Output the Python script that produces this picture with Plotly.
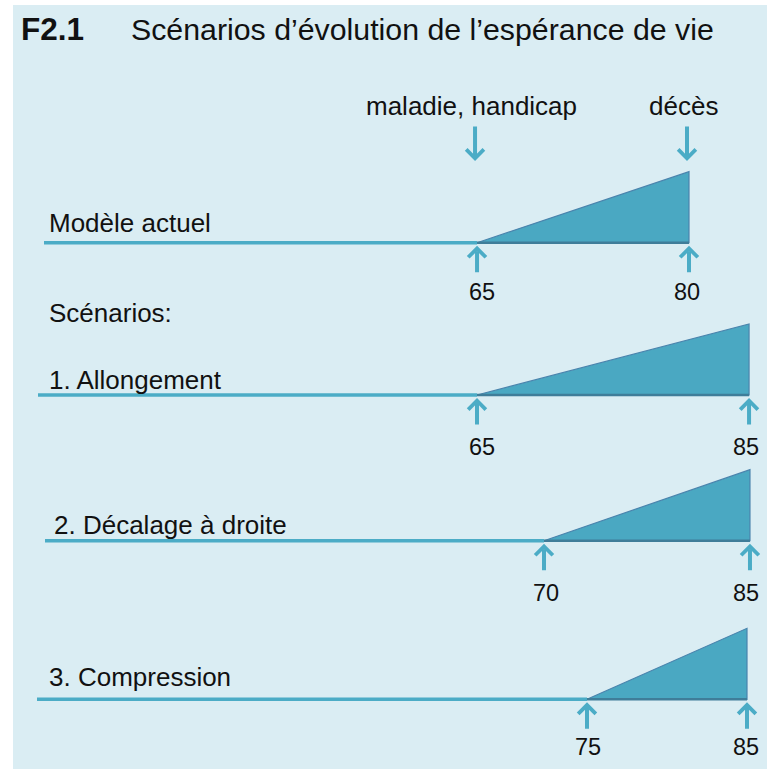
import plotly.graph_objects as go

# ---------------- data ----------------
title_code = "F2.1"
title_text = "Scénarios d’évolution de l’espérance de vie"
row_labels = ["Modèle actuel", "1. Allongement", "2. Décalage à droite", "3. Compression"]
onset_age = [65, 65, 70, 75]      # maladie, handicap
death_age = [80, 85, 85, 85]      # décès
event_labels = ["maladie, handicap", "décès"]
section_label = "Scénarios:"

# ---------------- layout constants ----------------
W, H = 767, 769
row_base_y = [242.7, 395.0, 540.7, 699.3]          # baseline of each schematic row
row_label_y = [223, 380, 525, 677]
row_label_x = [46.7, 46.7, 52, 46.7]
number_y = [292, 447, 593, 747]
number_xshift = [[5, -2], [5, -3], [2, -4], [1, -1]]
row_xrange = [[31.24, 85.52], [29.93, 86.32], [30.38, 86.24], [38.31, 86.25]]
row_line_start_px = [44, 38, 45, 37]
tri_height = 71

LINE = "#4bacc6"
FILL = "#4aa8c2"
EDGE = "#4a84ad"
BG = "#daedf3"
TXT = "#111111"
FONT = "Liberation Sans, Arial, sans-serif"

fig = go.Figure()
annotations = []

for i in range(len(row_labels)):
    xa = "x" if i == 0 else f"x{i+1}"
    r0, r1 = row_xrange[i]
    start = r0 + row_line_start_px[i] / W * (r1 - r0)
    yb = row_base_y[i]
    # baseline (life line)
    fig.add_trace(go.Scatter(x=[start, onset_age[i]], y=[yb, yb], mode="lines",
                             line=dict(color=LINE, width=3.5), xaxis=xa, yaxis="y",
                             hoverinfo="skip", showlegend=False))
    # triangle (years with illness / handicap)
    fig.add_trace(go.Scatter(x=[onset_age[i], death_age[i], death_age[i], onset_age[i]],
                             y=[yb, yb - tri_height, yb, yb], mode="lines", fill="toself",
                             fillcolor=FILL, line=dict(color=EDGE, width=1.2),
                             xaxis=xa, yaxis="y", hoverinfo="skip", showlegend=False))
    fig.add_trace(go.Scatter(x=[onset_age[i], death_age[i]], y=[yb, yb], mode="lines",
                             line=dict(color="#3f7d99", width=2.5), xaxis=xa, yaxis="y",
                             hoverinfo="skip", showlegend=False))
    # row label
    annotations.append(dict(text=row_labels[i], x=row_label_x[i] / W, xref="paper", y=row_label_y[i],
                            yref="y", xanchor="left", yanchor="middle", showarrow=False,
                            font=dict(size=26, color=TXT, family=FONT)))
    # up arrows + age numbers
    for k, age in enumerate((onset_age[i], death_age[i])):
        annotations.append(dict(text="", x=age, y=yb + 3, xref=xa, yref="y",
                                ax=age, ay=yb + 31, axref=xa, ayref="y",
                                showarrow=True, arrowhead=4, arrowsize=0.85, arrowwidth=4,
                                arrowcolor=LINE))
        annotations.append(dict(text=str(age), x=age, y=number_y[i], xref=xa, yref="y",
                                xshift=number_xshift[i][k],
                                xanchor="center", yanchor="middle", showarrow=False,
                                font=dict(size=23.5, color=TXT, family=FONT)))

# event labels with down arrows (on the current model row)
for lab, age, shift in zip(event_labels, [onset_age[0], death_age[0]], [-6, -6]):
    annotations.append(dict(text=lab, x=age, y=106, xref="x", yref="y", xshift=shift,
                            xanchor="center", yanchor="middle", showarrow=False,
                            font=dict(size=26, color=TXT, family=FONT)))
    annotations.append(dict(text="", x=age, y=161, xref="x", yref="y", xshift=-2,
                            ax=age, ay=125, axref="x", ayref="y",
                            showarrow=True, arrowhead=4, arrowsize=0.85, arrowwidth=4,
                            arrowcolor=LINE))

# section label
annotations.append(dict(text=section_label, x=46.7 / W, xref="paper", y=313, yref="y",
                        xanchor="left", yanchor="middle", showarrow=False,
                        font=dict(size=26, color=TXT, family=FONT)))
# title
annotations.append(dict(text="<b>" + title_code + "</b>", x=19 / W, xref="paper", y=29, yref="y",
                        xanchor="left", yanchor="middle", showarrow=False,
                        font=dict(size=31.5, color=TXT, family=FONT)))
annotations.append(dict(text=title_text, x=129 / W, xref="paper", y=29, yref="y",
                        xanchor="left", yanchor="middle", showarrow=False,
                        font=dict(size=30.3, color=TXT, family=FONT)))

layout = dict(
    width=W, height=H, margin=dict(l=0, r=0, t=0, b=0),
    paper_bgcolor="white", plot_bgcolor="rgba(0,0,0,0)",
    showlegend=False,
    yaxis=dict(range=[H, 0], visible=False, fixedrange=True, domain=[0, 1]),
    shapes=[dict(type="rect", xref="paper", yref="paper", x0=13 / W, x1=1, y0=0, y1=1 - 5 / H,
                 fillcolor=BG, line=dict(width=0), layer="below")],
    annotations=annotations,
)
for i in range(len(row_labels)):
    key = "xaxis" if i == 0 else f"xaxis{i+1}"
    ax = dict(range=row_xrange[i], visible=False, fixedrange=True, domain=[0, 1], anchor="y")
    if i > 0:
        ax["overlaying"] = "x"
    layout[key] = ax

fig.update_layout(**layout)
fig.write_html("out.html", config={"displayModeBar": False},
               post_script="document.body.style.margin='0';document.body.style.overflow='hidden';")
